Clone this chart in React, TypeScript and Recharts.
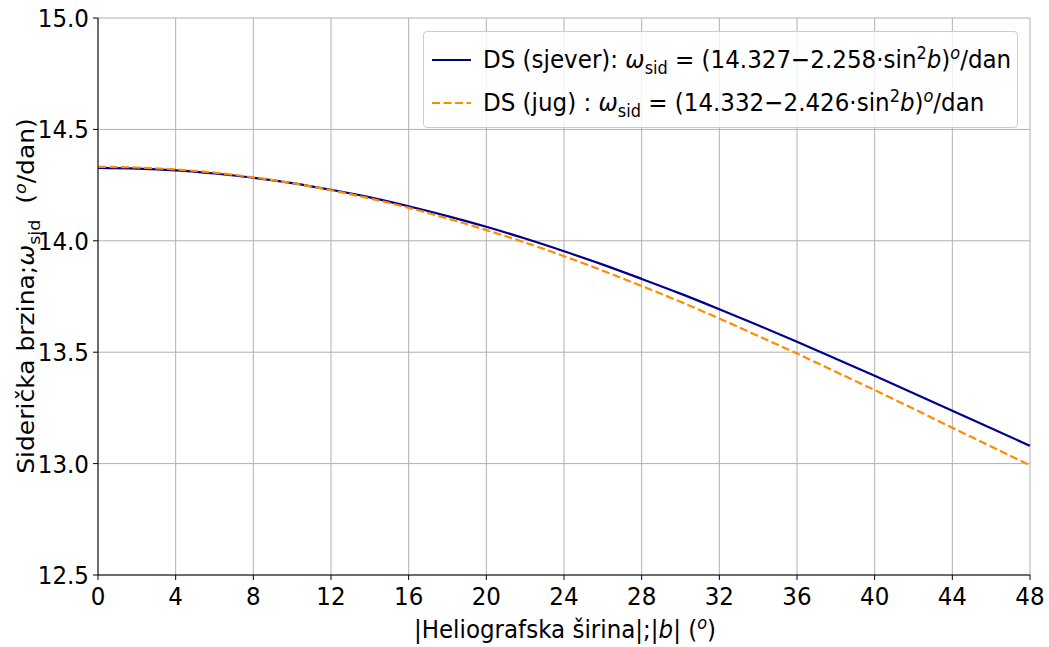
import React from 'react';
import { LineChart, Line, XAxis, YAxis, CartesianGrid } from 'recharts';

// |b| in degrees
const latitudes = [0, 2, 4, 6, 8, 10, 12, 14, 16, 18, 20, 22, 24, 26, 28, 30, 32, 34, 36, 38, 40, 42, 44, 46, 48];

// (deg/day)
const northRate = [
  14.327, 14.324, 14.316, 14.302, 14.283, 14.259, 14.229, 14.195, 14.155, 14.111, 14.063, 14.01, 13.953,
  13.893, 13.829, 13.763, 13.693, 13.621, 13.547, 13.471, 13.394, 13.316, 13.237, 13.159, 13.08,
];
const southRate = [
  14.332, 14.329, 14.32, 14.306, 14.285, 14.259, 14.227, 14.19, 14.148, 14.1, 14.048, 13.992, 13.931,
  13.866, 13.797, 13.726, 13.651, 13.573, 13.494, 13.412, 13.33, 13.246, 13.161, 13.077, 12.992,
];

const xTicks = [0, 4, 8, 12, 16, 20, 24, 28, 32, 36, 40, 44, 48];
const yTicks = [12.5, 13.0, 13.5, 14.0, 14.5, 15.0];

const chartData = latitudes.map((b, i) => ({
  b,
  north: northRate[i],
  south: southRate[i],
}));

const FONT = 'DejaVu Sans, sans-serif';
const FS = 25;
const SQ = 0.92; // the figure is a bit narrower than it is tall

const XTick = (props: any) => {
  const { x, y, payload } = props;
  return (
    <g transform={`translate(${x},${y})`}>
      <text transform={`scale(${SQ},1)`} textAnchor="middle" dy={23} fontFamily={FONT} fontSize={FS} fill="#000">
        {payload.value}
      </text>
    </g>
  );
};

const YTick = (props: any) => {
  const { x, y, payload } = props;
  return (
    <g transform={`translate(${x - 2},${y})`}>
      <text transform={`scale(${SQ},1)`} textAnchor="end" dy={9} fontFamily={FONT} fontSize={FS} fill="#000">
        {Number(payload.value).toFixed(1)}
      </text>
    </g>
  );
};

const sub = { fontSize: 17.5, position: 'relative' as const, top: 6 };
const sup = { fontSize: 17.5, position: 'relative' as const, top: -9 };

const legendRows = [
  { name: 'DS (sjever): ', a: '14.327', k: '2.258', color: '#00008b', dash: undefined as string | undefined },
  { name: 'DS (jug) : ', a: '14.332', k: '2.426', color: '#ff8c00', dash: '8 3.5' },
];

const LegendBox = () => (
  <div
    style={{
      position: 'absolute',
      left: 423,
      top: 31,
      width: 595,
      height: 97,
      boxSizing: 'border-box',
      background: 'rgba(255,255,255,0.8)',
      border: '1px solid #cccccc',
      borderRadius: 4,
      fontFamily: FONT,
      fontSize: FS,
      color: '#000',
    }}
  >
    {legendRows.map((r, i) => (
      <div key={r.name} style={{ position: 'absolute', left: 0, top: 9 + i * 43, height: 38, width: 595 }}>
        <svg width={60} height={38} style={{ position: 'absolute', left: 0, top: 0 }}>
          <line x1={8} y1={19} x2={47} y2={19} stroke={r.color} strokeWidth={2.2} strokeDasharray={r.dash} />
        </svg>
        <div
          style={{
            position: 'absolute',
            left: 59,
            top: 4,
            lineHeight: '30px',
            whiteSpace: 'nowrap',
            transform: `scale(${SQ},1)`,
            transformOrigin: 'left center',
          }}
        >
          {r.name}
          <i>ω</i>
          <span style={sub}>sid</span> = ({r.a}−{r.k}·sin<span style={sup}>2</span>
          <i>b</i>)<span style={sup}><i>o</i></span>/dan
        </div>
      </div>
    ))}
  </div>
);

const YLabel = () => (
  <text
    x={0}
    y={0}
    transform={`translate(34,296) scale(${SQ},1) rotate(-90)`}
    textAnchor="middle"
    fontFamily={FONT}
    fontSize={FS}
    fill="#000"
  >
    <tspan>Siderička brzina;</tspan>
    <tspan fontStyle="italic">ω</tspan>
    <tspan fontSize={17.5} dy={6}>sid</tspan>
    <tspan dy={-6}>{'\u00a0\u00a0('}</tspan>
    <tspan fontSize={17.5} dy={-9} fontStyle="italic">o</tspan>
    <tspan dy={9}>/dan)</tspan>
  </text>
);

const XLabel = () => (
  <text
    x={0}
    y={0}
    transform={`translate(565,638) scale(${SQ},1)`}
    textAnchor="middle"
    fontFamily={FONT}
    fontSize={FS}
    fill="#000"
  >
    <tspan>|Heliografska širina|;|</tspan>
    <tspan fontStyle="italic">b</tspan>
    <tspan>| (</tspan>
    <tspan fontSize={17.5} dy={-9} fontStyle="italic">o</tspan>
    <tspan dy={9}>)</tspan>
  </text>
);

const App: React.FC = () => {
  return (
    <div style={{ position: 'absolute', left: 0, top: 0, width: 1049, height: 647, background: '#fff' }}>
      <LineChart
        width={1049}
        height={647}
        data={chartData}
        margin={{ top: 18, right: 19, bottom: 0, left: 0 }}
      >
        <CartesianGrid stroke="#b0b0b0" strokeWidth={1} />
        <XAxis
          dataKey="b"
          type="number"
          domain={[0, 48]}
          ticks={xTicks}
          height={72}
          stroke="#000"
          tickSize={5}
          tick={<XTick />}
          interval={0}
        />
        <XAxis
          xAxisId="top"
          dataKey="b"
          type="number"
          domain={[0, 48]}
          orientation="top"
          height={0}
          tick={false}
          tickLine={false}
          stroke="#000"
        />
        <YAxis
          type="number"
          domain={[12.5, 15]}
          ticks={yTicks}
          width={98}
          stroke="#000"
          tickSize={5}
          tick={<YTick />}
          interval={0}
        />
        <YAxis
          yAxisId="right"
          orientation="right"
          domain={[12.5, 15]}
          width={0}
          tick={false}
          tickLine={false}
          stroke="#000"
        />
        <Line
          type="monotone"
          dataKey="north"
          stroke="#00008b"
          strokeWidth={2.2}
          dot={false}
          isAnimationActive={false}
        />
        <Line
          type="monotone"
          dataKey="south"
          stroke="#ff8c00"
          strokeWidth={2.2}
          strokeDasharray="8 3.5"
          dot={false}
          isAnimationActive={false}
        />
        <YLabel />
        <XLabel />
      </LineChart>
      <LegendBox />
    </div>
  );
};

export default App;
